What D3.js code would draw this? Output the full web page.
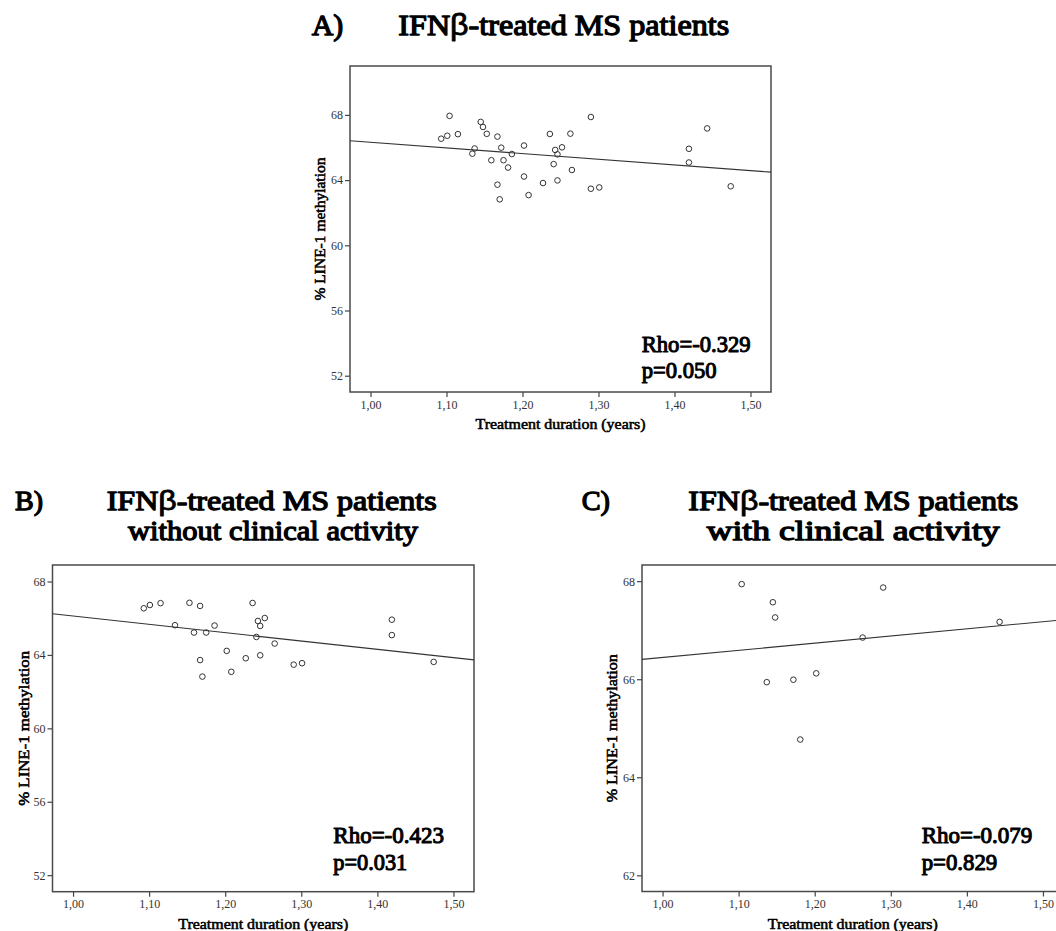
<!DOCTYPE html>
<html>
<head>
<meta charset="utf-8">
<script src="https://cdn.jsdelivr.net/npm/d3@7"></script>
<style>
  body { margin: 0; background: #fff; }
  svg { display: block; }
  text { font-family: "Liberation Serif", "Times New Roman", serif; }
</style>
</head>
<body>
<svg id="chart" width="1056" height="931"></svg>
<script>
// patients without clinical activity
const durationNoActivity = [1.093, 1.101, 1.115, 1.134, 1.153, 1.159, 1.167, 1.175, 1.167, 1.170,
    1.186, 1.202, 1.208, 1.227, 1.236, 1.241, 1.243, 1.246, 1.252, 1.246,
    1.265, 1.290, 1.301, 1.419, 1.419, 1.474];
const methylationNoActivity = [66.54, 66.72, 66.82, 65.62, 66.84, 65.22, 66.67, 65.22, 63.72, 62.82,
    65.60, 64.22, 63.08, 63.82, 66.83, 64.98, 65.85, 65.58, 66.01, 63.98,
    64.62, 63.47, 63.55, 65.92, 65.08, 63.62];

// patients with clinical activity
const durationActivity = [1.104, 1.145, 1.148, 1.290, 1.443, 1.263, 1.137, 1.172, 1.202, 1.181];
const methylationActivity = [67.94, 67.57, 67.26, 67.87, 67.17, 66.85, 65.94, 65.99, 66.12, 64.77];

const xTicks = [1.00, 1.10, 1.20, 1.30, 1.40, 1.50];
const yTicksWide = [52, 56, 60, 64, 68];
const yTicksNarrow = [62, 64, 66, 68];

const rhoLabels = ["Rho=-0.329", "Rho=-0.423", "Rho=-0.079"];
const pLabels = ["p=0.050", "p=0.031", "p=0.829"];

const toPoints = (xs, ys) => xs.map((x, i) => ({ x: x, y: ys[i] }));
const allPoints = toPoints(durationNoActivity.concat(durationActivity),
    methylationNoActivity.concat(methylationActivity));

const panels = [
    { letter: "A)", lines: ["IFNβ-treated MS patients"], points: allPoints,
      box: { left: 350, top: 66, right: 771, bottom: 392 }, yDomain: [51, 71], yTicks: yTicksWide,
      rho: rhoLabels[0], p: pLabels[0],
      title: { letterX: 311.7, letterW: 31.6, size: 30, y: 35, x: [398.3], w: [331] },
      stats: { x: 641.7, y: 352, dy: 25.5, w1: 109, w2: 75 }, yLabelOff: 29, yLabelW: 143 },
    { letter: "B)", lines: ["IFNβ-treated MS patients", "without clinical activity"],
      points: toPoints(durationNoActivity, methylationNoActivity),
      box: { left: 52.5, top: 565, right: 474, bottom: 891.7 }, yDomain: [51.1, 68.9], yTicks: yTicksWide,
      rho: rhoLabels[1], p: pLabels[1],
      title: { letterX: 15, letterW: 28, size: 28, y: 510, x: [106.7, 128], w: [330, 290] },
      stats: { x: 333.3, y: 842.7, dy: 27.3, w1: 110.7, w2: 74 }, yLabelOff: 28, yLabelW: 155 },
    { letter: "C)", lines: ["IFNβ-treated MS patients", "with clinical activity"],
      points: toPoints(durationActivity, methylationActivity),
      box: { left: 642, top: 565, right: 1063.5, bottom: 891.5 }, yDomain: [61.67, 68.33], yTicks: yTicksNarrow,
      rho: rhoLabels[2], p: pLabels[2],
      title: { letterX: 581.7, letterW: 28.3, size: 28, y: 510, x: [688.3, 706.7], w: [330, 293] },
      stats: { x: 921.7, y: 842.7, dy: 27.3, w1: 110.6, w2: 75.6 }, yLabelOff: 29, yLabelW: 148 }
];

const svg = d3.select("svg#chart");

// bold Liberation Serif is drawn as regular with a thin outline
function bold(sel, w) {
    return sel.attr("font-weight", "normal").attr("fill", "#000")
        .attr("stroke", "#000").attr("stroke-width", w).attr("stroke-linejoin", "round");
}

function linearFit(pts) {
    const mx = d3.mean(pts, d => d.x), my = d3.mean(pts, d => d.y);
    const sxy = d3.sum(pts, d => (d.x - mx) * (d.y - my));
    const sxx = d3.sum(pts, d => (d.x - mx) * (d.x - mx));
    const slope = sxy / sxx;
    return x => my + slope * (x - mx);
}

function drawPanel(cfg) {
    const g = svg.append("g");
    const b = cfg.box;

    // SCALES
    const xScale = d3.scaleLinear().domain([0.973, 1.527]).range([b.left, b.right]);
    const yScale = d3.scaleLinear().domain(cfg.yDomain).range([b.bottom, b.top]);

    // TITLE
    g.append("text")
        .attr("x", cfg.title.letterX).attr("y", cfg.title.y)
        .attr("font-size", cfg.title.size)
        .attr("textLength", cfg.title.letterW).attr("lengthAdjust", "spacingAndGlyphs")
        .call(bold, 1.3)
        .text(cfg.letter);

    cfg.lines.forEach((line, i) => {
        const t = g.append("text")
            .attr("x", cfg.title.x[i]).attr("y", cfg.title.y + i * 30)
            .attr("font-size", cfg.title.size)
            .attr("textLength", cfg.title.w[i]).attr("lengthAdjust", "spacingAndGlyphs")
            .call(bold, 1.3);
        if (line.includes("β")) {
            const parts = line.split("β");
            t.append("tspan").text(parts[0]);
            t.append("tspan").style("font-family", "'Liberation Sans', Arial, sans-serif")
                .attr("stroke-width", 0.8).text("β");
            t.append("tspan").text(parts[1]);
        } else {
            t.text(line);
        }
    });

    // AXIS
    const xAxis = d3.axisBottom(xScale).tickValues(xTicks).tickSize(5).tickPadding(3)
        .tickFormat(d => d3.format(".2f")(d).replace(".", ","));
    const yAxis = d3.axisLeft(yScale).tickValues(cfg.yTicks).tickSize(5).tickPadding(2)
        .tickFormat(d3.format("d"));

    [g.append("g").attr("transform", `translate(0,${b.bottom})`).call(xAxis),
     g.append("g").attr("transform", `translate(${b.left},0)`).call(yAxis)].forEach(a => {
        a.select(".domain").remove();
        a.selectAll("line").attr("stroke", "#444").attr("stroke-width", 1.2);
        a.selectAll("text").attr("font-family", null)
            .attr("font-size", 12).attr("fill", "#333");
    });

    // FRAME
    g.append("rect")
        .attr("x", b.left).attr("y", b.top)
        .attr("width", b.right - b.left).attr("height", b.bottom - b.top)
        .attr("fill", "none").attr("stroke", "#4a4a4a").attr("stroke-width", 1.5);

    // AXIS TITLES
    g.append("text")
        .attr("x", (b.left + b.right) / 2).attr("y", b.bottom + 37)
        .attr("text-anchor", "middle").attr("font-size", 14)
        .attr("textLength", 170).attr("lengthAdjust", "spacingAndGlyphs")
        .call(bold, 0.55)
        .text("Treatment duration (years)");

    g.append("text")
        .attr("transform", `translate(${b.left - cfg.yLabelOff + 4},${(b.top + b.bottom) / 2}) rotate(-90)`)
        .attr("text-anchor", "middle").attr("font-size", 14)
        .attr("textLength", cfg.yLabelW).attr("lengthAdjust", "spacingAndGlyphs")
        .call(bold, 0.55)
        .text("% LINE-1 methylation");

    // FIT LINE
    const fit = linearFit(cfg.points);
    const x0 = xScale.domain()[0], x1 = xScale.domain()[1];
    g.append("line")
        .attr("x1", xScale(x0)).attr("y1", yScale(fit(x0)))
        .attr("x2", xScale(x1)).attr("y2", yScale(fit(x1)))
        .attr("stroke", "#333").attr("stroke-width", 1.1);

    // POINTS
    g.selectAll("circle")
        .data(cfg.points)
        .join("circle")
        .attr("cx", d => xScale(d.x))
        .attr("cy", d => yScale(d.y))
        .attr("r", 2.8)
        .attr("fill", "none")
        .attr("stroke", "#333")
        .attr("stroke-width", 1);

    // STATS
    g.append("text")
        .attr("x", cfg.stats.x).attr("y", cfg.stats.y)
        .attr("font-size", 23)
        .attr("textLength", cfg.stats.w1).attr("lengthAdjust", "spacingAndGlyphs")
        .call(bold, 1.05)
        .text(cfg.rho);
    g.append("text")
        .attr("x", cfg.stats.x).attr("y", cfg.stats.y + cfg.stats.dy)
        .attr("font-size", 23)
        .attr("textLength", cfg.stats.w2).attr("lengthAdjust", "spacingAndGlyphs")
        .call(bold, 1.05)
        .text(cfg.p);
}

panels.forEach(drawPanel);
</script>
</body>
</html>
